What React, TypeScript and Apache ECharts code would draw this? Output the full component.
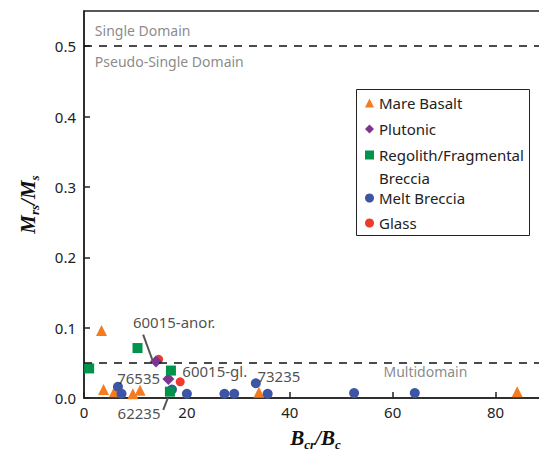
import React, { useEffect, useRef } from "react";
import * as echarts from "echarts";

// ---- data (B_cr/B_c , M_rs/M_s) ----
const mareBasalt: [number, number][] = [
  [3.4, 0.096], [3.8, 0.012], [5.9, 0.009], [9.5, 0.006], [10.9, 0.011], [34.0, 0.008], [84.2, 0.009],
];
const plutonic: [number, number][] = [
  [14.0, 0.052], [16.4, 0.027],
];
const regolith: [number, number][] = [
  [1.0, 0.042], [10.4, 0.071], [16.9, 0.039], [16.7, 0.009],
];
const meltBreccia: [number, number][] = [
  [6.6, 0.016], [7.3, 0.006], [17.1, 0.012], [20.0, 0.006], [27.3, 0.006], [29.2, 0.006],
  [33.4, 0.021], [35.7, 0.006], [52.5, 0.007], [64.3, 0.007],
];
const glass: [number, number][] = [
  [14.5, 0.055], [18.7, 0.023],
];

const SD_LIMIT = 0.5;
const MD_LIMIT = 0.052;

const xTicks = [0, 20, 40, 60, 80];
const yTicks = [0, 0.1, 0.2, 0.3, 0.4, 0.5];

// sample annotations, in data coordinates
const sampleLabels = [
  { text: "60015-anor.", x: 9.5, y: 0.108, pos: "right" },
  { text: "76535", x: 14.8, y: 0.028, pos: "left" },
  { text: "60015-gl.", x: 19.1, y: 0.038, pos: "right" },
  { text: "73235", x: 33.7, y: 0.031, pos: "right" },
  { text: "62235", x: 10.7, y: -0.021, pos: "inside" },
];
const leaderLines = [
  { from: [11.5, 0.09], to: [13.3, 0.054] },
  { from: [15.4, -0.017], to: [16.3, 0.0] },
];
const regionLabels = [
  { text: "Single Domain", x: 2.1, y: 0.522 },
  { text: "Pseudo-Single Domain", x: 2.1, y: 0.478 },
  { text: "Multidomain", x: 58.2, y: 0.037 },
];

const FONT = "'Noto Sans', 'DejaVu Sans', sans-serif";
const SERIF = "'Liberation Serif', 'DejaVu Serif', serif";

const COLORS = {
  mare: "#F47B20",
  plut: "#7B3590",
  rego: "#00934A",
  melt: "#3D55A5",
  glass: "#EE3A2B",
};

export default function App() {
  const ref = useRef<HTMLDivElement>(null);

  useEffect(() => {
    if (!ref.current) return;
    const chart = echarts.init(ref.current, undefined, { renderer: "svg" });

    const titleRich = {
      i: { fontFamily: SERIF, fontStyle: "italic", fontWeight: "bold", fontSize: 21, color: "#111", lineHeight: 26, verticalAlign: "middle" },
      s: { fontFamily: SERIF, fontStyle: "italic", fontWeight: "bold", fontSize: 13, color: "#111", lineHeight: 26, verticalAlign: "bottom" },
    };

    const baseGraphic: any[] = [
      { id: "legendBox", type: "rect", left: 354, top: 87, shape: { width: 173, height: 146 }, style: { fill: "none", stroke: "#222", lineWidth: 1 }, z: 10 },
      { id: "legendBreccia", type: "text", left: 379, top: 167, style: { text: "Breccia", fontFamily: FONT, fontSize: 15, fill: "#222", lineHeight: 22 }, z: 10 },
    ];

    const option: any = {
      animation: false,
      grid: { left: 84, top: 11, right: -8, bottom: 53, show: true, borderColor: "#222", borderWidth: 1.5, outerBoundsMode: "none" },
      legend: [
        {
          data: ["Mare Basalt", "Plutonic", "Regolith/Fragmental Breccia"],
          formatter: (n: string) => (n === "Regolith/Fragmental Breccia" ? "Regolith/Fragmental" : n),
          orient: "vertical", left: 365, top: 92, padding: 0, itemGap: 4,
          itemWidth: 9, itemHeight: 9, selectedMode: false,
          textStyle: { fontFamily: FONT, fontSize: 15, color: "#222", lineHeight: 22 },
        },
        {
          data: ["Melt Breccia", "Glass"],
          orient: "vertical", left: 365, top: 187, padding: 0, itemGap: 3,
          itemWidth: 9, itemHeight: 9, selectedMode: false,
          textStyle: { fontFamily: FONT, fontSize: 15, color: "#222", lineHeight: 22 },
        },
      ],
      graphic: baseGraphic,
      xAxis: {
        type: "value", min: 0, max: 90, interval: 20,
        axisLine: { show: true, lineStyle: { color: "#222", width: 1.5 } },
        axisTick: { show: true, inside: true, length: 6, lineStyle: { color: "#222", width: 1.5 } },
        axisLabel: {
          fontFamily: FONT, fontSize: 15, color: "#222", margin: 6, showMaxLabel: false,
          formatter: (v: number) => (xTicks.includes(v) ? String(v) : ""),
        },
        splitLine: { show: false },
        name: "{i|B}{s|cr}{i|/B}{s|c}",
        nameLocation: "middle", nameGap: 27,
        nameTextStyle: { rich: titleRich },
      },
      yAxis: {
        type: "value", min: 0, max: 0.55, interval: 0.1,
        axisLine: { show: true, lineStyle: { color: "#222", width: 1.5 } },
        axisTick: { show: true, inside: true, length: 6, lineStyle: { color: "#222", width: 1.5 } },
        axisLabel: {
          fontFamily: FONT, fontSize: 15, color: "#222", margin: 8, showMaxLabel: false,
          formatter: (v: number) => (yTicks.some((t) => Math.abs(t - v) < 1e-9) ? v.toFixed(1) : ""),
        },
        splitLine: { show: false },
        name: "{i|M}{s|rs}{i|/M}{s|s}",
        nameLocation: "middle", nameGap: 43,
        nameTextStyle: { rich: titleRich },
      },
      series: [
        { name: "Glass", type: "scatter", data: glass, symbol: "circle", symbolSize: 9, itemStyle: { color: COLORS.glass, opacity: 1 } },
        { name: "Mare Basalt", type: "scatter", data: mareBasalt, symbol: "triangle", symbolSize: 11, itemStyle: { color: COLORS.mare, opacity: 1 } },
        { name: "Melt Breccia", type: "scatter", data: meltBreccia, symbol: "circle", symbolSize: 10, itemStyle: { color: COLORS.melt, opacity: 1 } },
        { name: "Plutonic", type: "scatter", data: plutonic, symbol: "diamond", symbolSize: 12, itemStyle: { color: COLORS.plut, opacity: 1 } },
        { name: "Regolith/Fragmental Breccia", type: "scatter", data: regolith, symbol: "rect", symbolSize: 10, itemStyle: { color: COLORS.rego, opacity: 1 } },
        {
          name: "annotations", type: "scatter", silent: true, clip: false,
          symbolSize: 0.1, itemStyle: { color: "transparent" },
          data: [
            ...sampleLabels.map((a) => ({
              value: [a.x, a.y],
              label: { show: true, position: a.pos, distance: 0, formatter: a.text, fontFamily: FONT, fontSize: 15, color: "#222" },
            })),
            ...regionLabels.map((a) => ({
              value: [a.x, a.y],
              label: { show: true, position: "right", distance: 0, formatter: a.text, fontFamily: FONT, fontSize: 14, color: "#6b6b6b" },
            })),
          ],
          markLine: {
            silent: true, symbol: ["none", "none"], label: { show: false },
            data: [
              { yAxis: SD_LIMIT, lineStyle: { type: [8, 7], color: "#111", width: 1.5 } },
              { yAxis: MD_LIMIT, lineStyle: { type: [8, 7], color: "#111", width: 1.5 } },
            ],
          },
        },
      ],
    };

    chart.setOption(option);

    // leader lines: data coords converted through the chart's own scales
    const leaders = leaderLines.map((l, i) => {
      const p1 = chart.convertToPixel({ gridIndex: 0 }, l.from) as number[];
      const p2 = chart.convertToPixel({ gridIndex: 0 }, l.to) as number[];
      return {
        id: "leader" + i, type: "line", silent: true, z: 5,
        shape: { x1: p1[0], y1: p1[1], x2: p2[0], y2: p2[1] },
        style: { stroke: "#555", lineWidth: 2 },
      };
    });
    chart.setOption({ graphic: [...baseGraphic, ...leaders] });

    return () => chart.dispose();
  }, []);

  return <div ref={ref} style={{ position: "absolute", left: 0, top: 0, width: 539, height: 451 }} />;
}
